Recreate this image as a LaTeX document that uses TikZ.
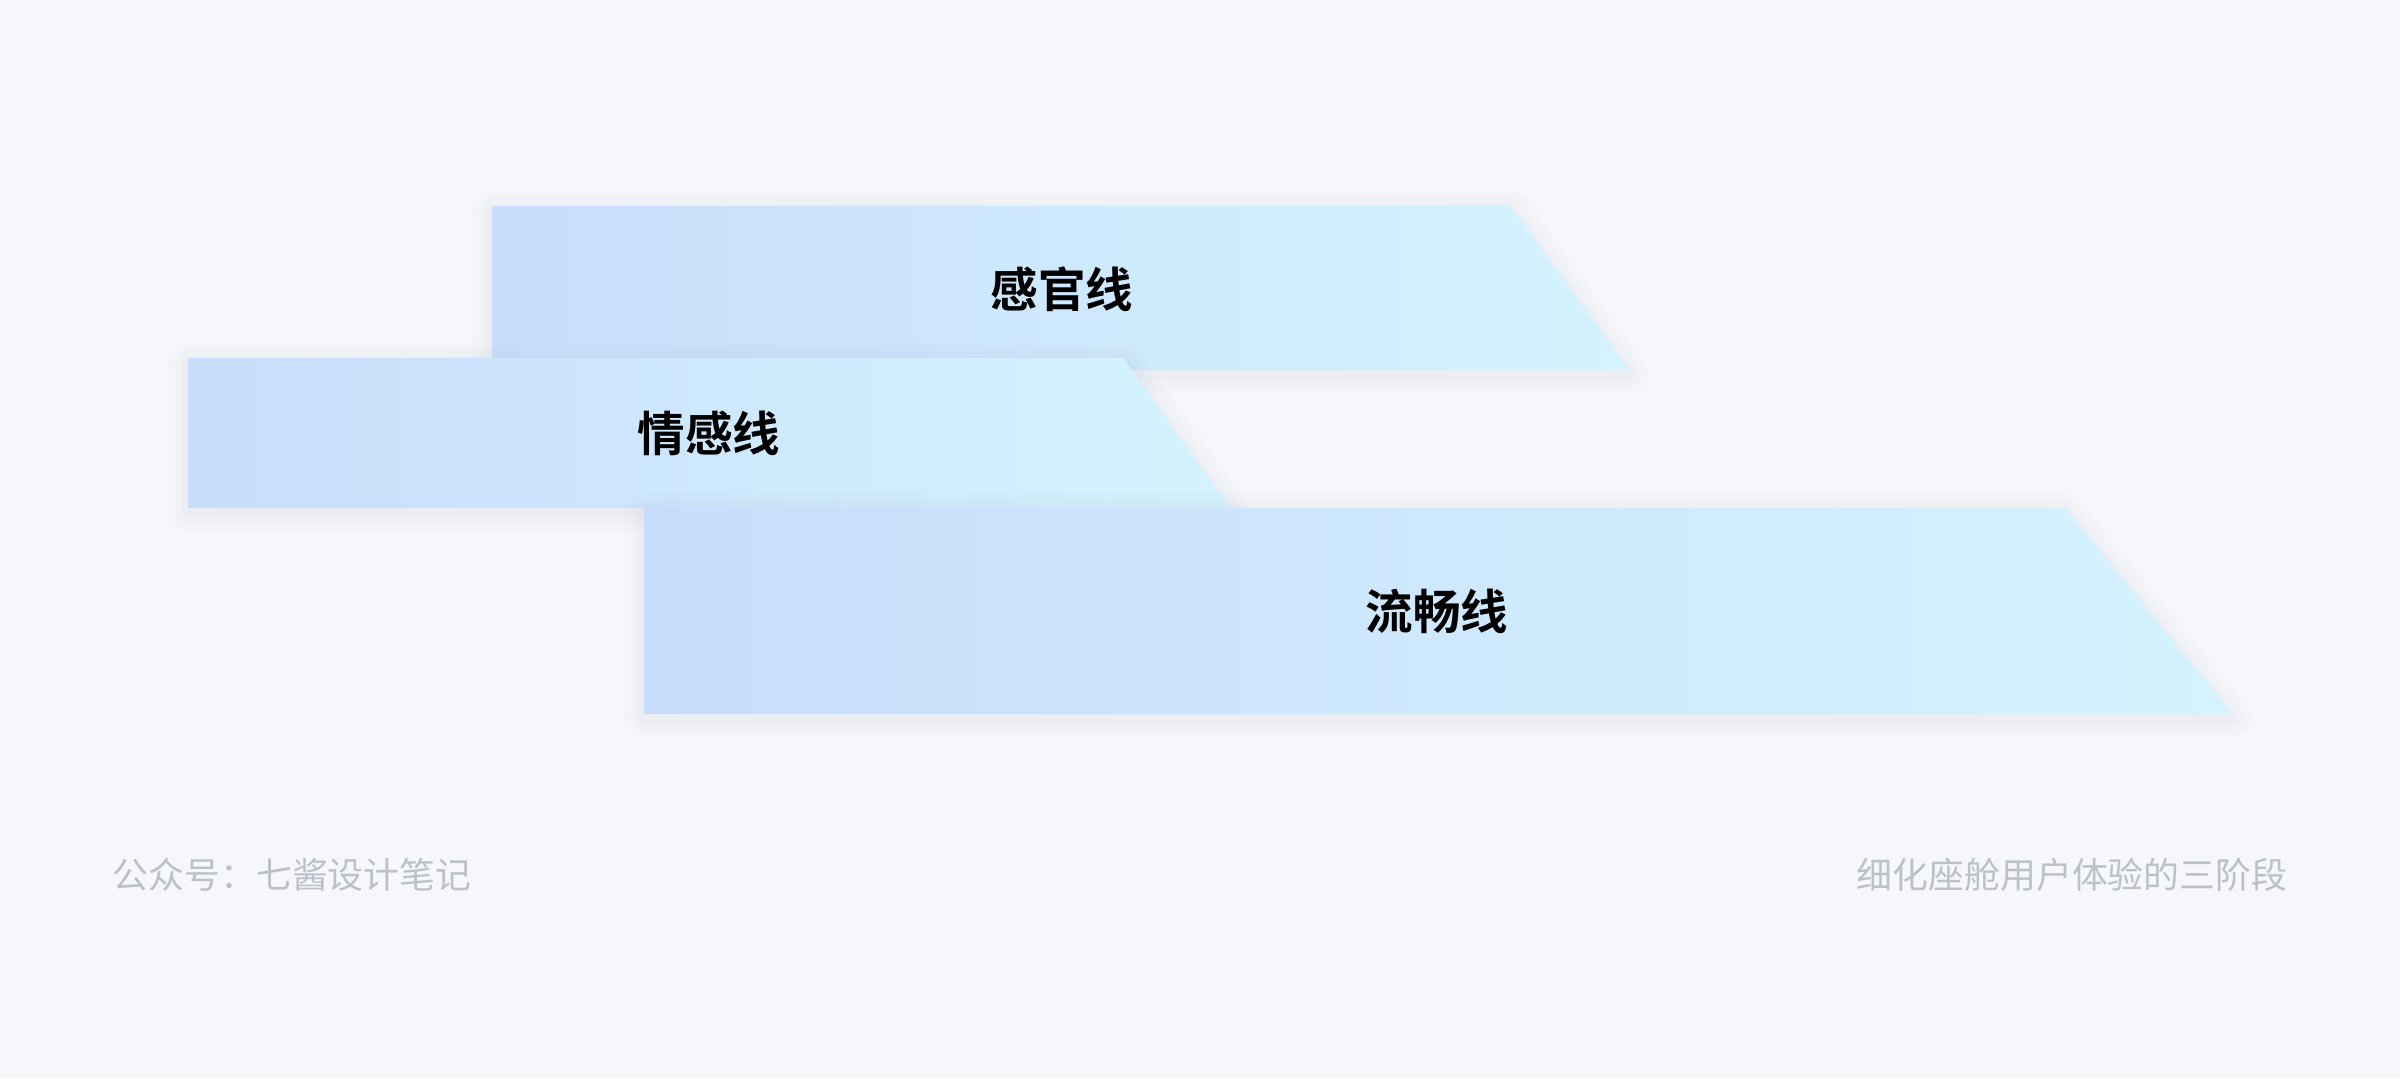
\documentclass[tikz,border=0pt]{standalone}
\usepackage{fontspec}
\newfontfamily\cjk[BoldFont={Noto Sans CJK SC Bold}]{Noto Sans CJK SC}
\usepackage{xcolor}
\definecolor{qbg}{HTML}{F5F7FB}
\definecolor{qleft}{HTML}{C8DDFC}
\definecolor{qright}{HTML}{D4F3FE}
\definecolor{qshade}{HTML}{7F8AA0}
\definecolor{qnote}{HTML}{BCC1C9}
\usepackage{tikz}
\usetikzlibrary{positioning}

\begin{document}
\begin{tikzpicture}[x=0.01cm,y=-0.01cm,
  band/.style={left color=qleft,right color=qright},
  halo/.style={draw=qshade,draw opacity=0.025,line join=round,yshift=-0.04cm},
  lbl/.style={font=\cjk\bfseries\fontsize{13.5pt}{16pt}\selectfont,text=black,inner sep=0pt},
  note/.style={font=\cjk\fontsize{10.2pt}{12pt}\selectfont,text=qnote,inner sep=0pt}]
\fill[qbg] (0,0) rectangle (2400,1078);
\useasboundingbox (0,0) rectangle (2400,1078);
% top band
\foreach \w in {0.38,0.24,0.12} \draw[halo,line width=\w cm] (492,206)--(1510,206)--(1629,370)--(492,370)--cycle;
\shade[band] (492,206)--(1510,206)--(1629,370)--(492,370)--cycle;
% middle band
\foreach \w in {0.38,0.24,0.12} \draw[halo,line width=\w cm] (188,358)--(1123,358)--(1230,508)--(188,508)--cycle;
\shade[band] (188,358)--(1123,358)--(1230,508)--(188,508)--cycle;
% bottom band
\foreach \w in {0.38,0.24,0.12} \draw[halo,line width=\w cm] (644,508)--(2065,508)--(2232,714)--(644,714)--cycle;
\shade[band] (644,508)--(2065,508)--(2232,714)--(644,714)--cycle;
\node[lbl] (sense) at (1062,289) {感官线};
\node[lbl] (emotion) at (709,433) {情感线};
\node[lbl] (flow) at (1437,611) {流畅线};
\node[note,anchor=west] (acct) at (112,875) {公众号：七酱设计笔记};
\node[note,anchor=east] (caption) at (2288,875) {细化座舱用户体验的三阶段};
\end{tikzpicture}
\end{document}
